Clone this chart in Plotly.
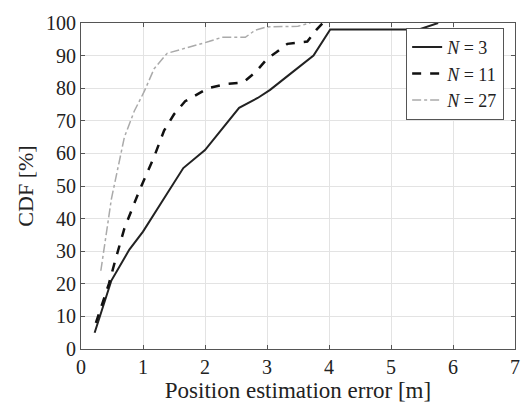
import plotly.graph_objects as go

x_n3 = [0.22, 0.49, 0.78, 1.0, 1.3, 1.65, 2.0, 2.3, 2.55, 2.85, 3.05, 3.35, 3.55, 3.75, 4.02, 5.45, 5.76]
y_n3 = [5, 21, 30.5, 36, 45, 55.5, 61, 68, 74, 77, 79.5, 84, 87, 90, 98, 98, 100]

x_n11 = [0.24, 0.45, 0.55, 0.7, 0.95, 1.18, 1.34, 1.5, 1.68, 2.05, 2.35, 2.62, 2.82, 3.0, 3.15, 3.33, 3.65, 3.8, 3.9]
y_n11 = [8, 20, 27, 37, 49, 59, 67, 72, 76, 80, 81.3, 81.8, 85, 89, 91, 93.6, 94.3, 98, 100]

x_n27 = [0.32, 0.49, 0.7, 0.86, 1.02, 1.18, 1.39, 1.7, 2.06, 2.27, 2.65, 2.81, 3.0, 3.5, 3.7]
y_n27 = [24, 46, 65, 73, 79, 86, 90.7, 92.3, 94.3, 95.6, 95.6, 97.8, 98.8, 99, 100]

labels = ["<i>N</i> = 3", "<i>N</i> = 11", "<i>N</i> = 27"]
x_ticks = [0, 1, 2, 3, 4, 5, 6, 7]
y_ticks = [0, 10, 20, 30, 40, 50, 60, 70, 80, 90, 100]

fig = go.Figure()
fig.add_trace(go.Scatter(x=x_n3, y=y_n3, mode="lines", name=labels[0],
                         line=dict(color="#222222", width=2)))
fig.add_trace(go.Scatter(x=x_n11, y=y_n11, mode="lines", name=labels[1],
                         line=dict(color="#111111", width=2.5, dash="dash")))
fig.add_trace(go.Scatter(x=x_n27, y=y_n27, mode="lines", name=labels[2],
                         line=dict(color="#aaaaaa", width=1.5, dash="dashdot")))

font_family = "Liberation Serif"
axis_common = dict(
    showline=True, linecolor="#555555", linewidth=1, mirror="ticks",
    ticks="inside", ticklen=4, tickcolor="#555555",
    showgrid=True, gridcolor="#e3e3e3", gridwidth=1, zeroline=False,
    tickfont=dict(family=font_family, size=20, color="#222222"),
)

fig.update_layout(
    width=532, height=412,
    margin=dict(l=81, r=12, t=16, b=63),
    paper_bgcolor="white", plot_bgcolor="white",
    font=dict(family=font_family, color="#222222"),
    xaxis=dict(range=[0, 7], tickvals=x_ticks,
               title=dict(text="Position estimation error [m]", font=dict(family=font_family, size=23), standoff=4),
               **axis_common),
    yaxis=dict(range=[0, 100], tickvals=y_ticks,
               title=dict(text="CDF [%]", font=dict(family=font_family, size=22), standoff=6),
               **axis_common),
    legend=dict(x=0.975, y=0.985, xanchor="right", yanchor="top",
                bgcolor="white", bordercolor="#555555", borderwidth=1,
                font=dict(family=font_family, size=18, color="#222222"),
                tracegroupgap=0, itemwidth=30),
    showlegend=True,
)

fig.write_html("out.html")
